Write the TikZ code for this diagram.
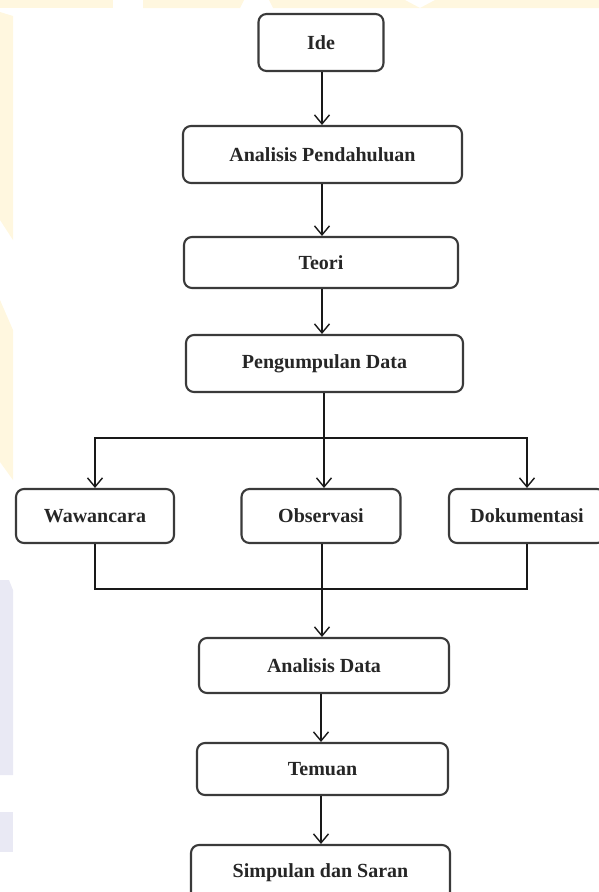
\documentclass[tikz,border=0pt]{standalone}
\usepackage{fontspec}
\setmainfont{Liberation Serif}
\usetikzlibrary{arrows.meta}

\definecolor{boxline}{HTML}{3A3A3A}
\definecolor{wmyellow}{HTML}{FFF7DF}
\definecolor{wmlilac}{HTML}{E9E9F4}

\tikzset{
  stepbox/.style={draw=boxline, line width=2.1pt, rounded corners=8pt,
    fill=white, inner sep=0pt, align=center, text=black!85,
    font=\fontsize{20}{24}\selectfont\bfseries},
  link/.style={draw=black!90, line width=1.4pt},
  arr/.style={link, -{Straight Barb[length=9pt,width=15pt,line width=1.4pt]}}
}

\begin{document}
\begin{tikzpicture}[x=1pt, y=-1pt]
\useasboundingbox (0,0) rectangle (599,892);
\clip (0,0) rectangle (599,892);

% faint background marks
\fill[wmyellow] (0,0) -- (113,0) -- (113,8) -- (0,8) -- cycle;
\fill[wmyellow] (143,0) -- (244,0) -- (240,8) -- (143,8) -- cycle;
\fill[wmyellow] (269,0) -- (405,0) -- (420,8) -- (273,8) -- cycle;
\fill[wmyellow] (435,0) -- (599,0) -- (599,8) -- (420,8) -- cycle;
\fill[wmyellow] (0,12) -- (13,16) -- (13,240) -- (0,220) -- cycle;
\fill[wmyellow] (0,300) -- (13,330) -- (13,480) -- (0,462) -- cycle;
\fill[wmlilac] (0,580) -- (9,580) -- (13,590) -- (13,775) -- (0,775) -- cycle;
\fill[wmlilac] (0,812) rectangle (13,852);

% main chain
\node[stepbox, minimum width=125pt, minimum height=57pt] (ide) at (321,42.5) {Ide};
\node[stepbox, minimum width=279pt, minimum height=57pt] (ap) at (322.5,154.5) {Analisis Pendahuluan};
\node[stepbox, minimum width=274pt, minimum height=51pt] (teori) at (321,262.5) {Teori};
\node[stepbox, minimum width=277pt, minimum height=57pt] (pd) at (324.5,363.5) {Pengumpulan Data};

% three collection methods
\node[stepbox, minimum width=158pt, minimum height=54pt] (waw) at (95,516) {Wawancara};
\node[stepbox, minimum width=159pt, minimum height=54pt] (obs) at (321,516) {Observasi};
\node[stepbox, minimum width=156pt, minimum height=54pt] (dok) at (527,516) {Dokumentasi};

% analysis and results
\node[stepbox, minimum width=250pt, minimum height=55pt] (ad) at (324,665.5) {Analisis Data};
\node[stepbox, minimum width=251pt, minimum height=52pt] (tem) at (322.5,769) {Temuan};
\node[stepbox, minimum width=259pt, minimum height=56pt] (sim) at (320.5,873) {Simpulan dan Saran};

\coordinate (split) at (324,438);
\coordinate (join) at (322,589);

\draw[arr] (ide.south -| 322,0) -- (ap.north -| 322,0);
\draw[arr] (ap.south -| 322,0) -- (teori.north -| 322,0);
\draw[arr] (teori.south -| 322,0) -- (pd.north -| 322,0);

\draw[arr] (pd.south -| split) -- (obs.north -| split);
\draw[arr] (split) -| (waw.north);
\draw[arr] (split) -| (dok.north);

\draw[link] (waw.south) |- (join);
\draw[link] (dok.south) |- (join);
\draw[arr] (obs.south -| join) -- (ad.north -| join);

\draw[arr] (ad.south -| 321,0) -- (tem.north -| 321,0);
\draw[arr] (tem.south -| 321,0) -- (sim.north -| 321,0);
\end{tikzpicture}
\end{document}
